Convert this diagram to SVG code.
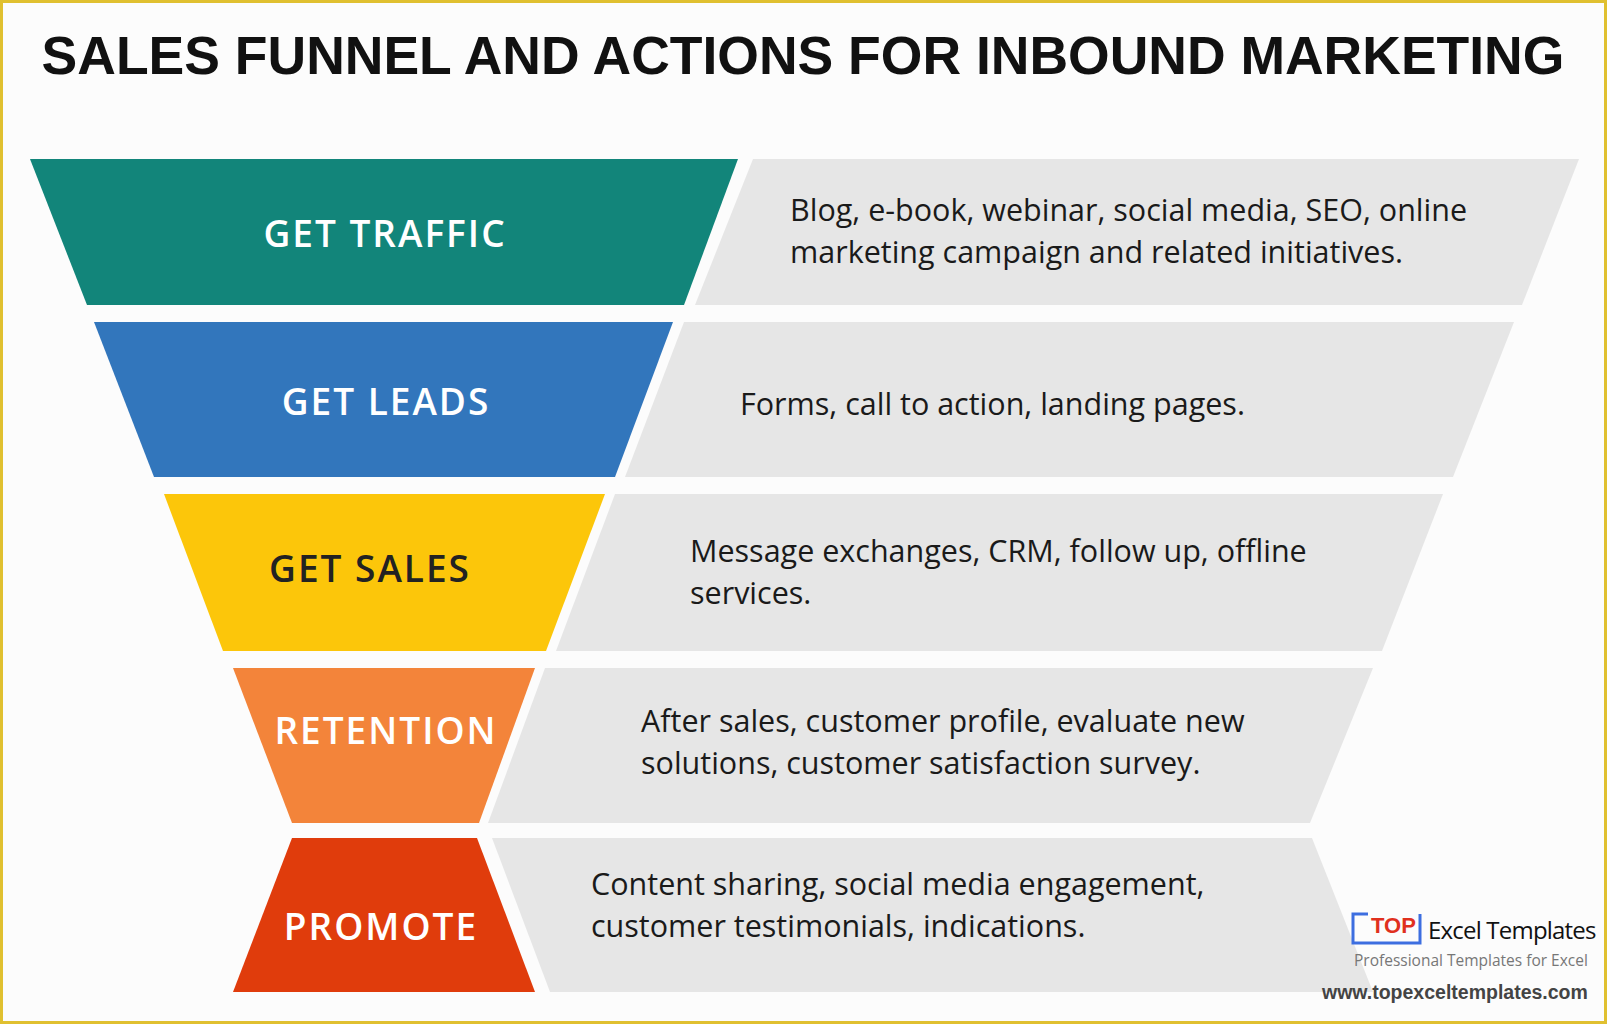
<svg xmlns="http://www.w3.org/2000/svg" width="1607" height="1024" viewBox="0 0 1607 1024">
<style>
.lab{font-family:"Open Sans","Liberation Sans",sans-serif;font-size:37px;font-weight:600;fill:#fff;text-anchor:middle;letter-spacing:2px}
.desc{font-family:"Open Sans","Liberation Sans",sans-serif;font-size:30.5px;fill:#1a1a1a}
.grey{fill:#e6e6e6}
</style>
<rect x="1.5" y="1.5" width="1604" height="1021" fill="#fcfcfc" stroke="#e0c030" stroke-width="3"/>
<text x="803" y="74" text-anchor="middle" font-family="Liberation Sans,Arial,sans-serif" font-weight="bold" font-size="53.5" fill="#111">SALES FUNNEL AND ACTIONS FOR INBOUND MARKETING</text>
<g id="traffic">
<polygon class="grey" points="753,159 1579,159 1522,305 695,305"/>
<polygon fill="#12857a" points="30,159 738,159 684,305 87,305"/>
<text class="lab" x="385" y="247">GET TRAFFIC</text>
<text class="desc" x="790" y="221">Blog, e-book, webinar, social media, SEO, online</text>
<text class="desc" x="790" y="263">marketing campaign and related initiatives.</text>
</g>
<g id="leads">
<polygon class="grey" points="684,322 1514,322 1453,477 625,477"/>
<polygon fill="#3276bc" points="94,322 673,322 615,477 154,477"/>
<text class="lab" x="386" y="415">GET LEADS</text>
<text class="desc" x="740" y="415">Forms, call to action, landing pages.</text>
</g>
<g id="sales">
<polygon class="grey" points="615,494 1443,494 1382,651 556,651"/>
<polygon fill="#fcc60a" points="164,494 605,494 546,651 223,651"/>
<text class="lab" x="370" y="582" style="fill:#222">GET SALES</text>
<text class="desc" x="690" y="562">Message exchanges, CRM, follow up, offline</text>
<text class="desc" x="690" y="604">services.</text>
</g>
<g id="retention">
<polygon class="grey" points="545,668 1373,668 1310,823 488,823"/>
<polygon fill="#f3843a" points="233,668 535,668 479,823 292,823"/>
<text class="lab" x="386" y="744">RETENTION</text>
<text class="desc" x="641" y="732">After sales, customer profile, evaluate new</text>
<text class="desc" x="641" y="774">solutions, customer satisfaction survey.</text>
</g>
<g id="promote">
<polygon class="grey" points="492,838 1312,838 1373,992 550,992"/>
<polygon fill="#e03c0c" points="292,838 477,838 535,992 233,992"/>
<text class="lab" x="381" y="940">PROMOTE</text>
<text class="desc" x="591" y="895">Content sharing, social media engagement,</text>
<text class="desc" x="591" y="937">customer testimonials, indications.</text>
</g>
<g id="logo">
<rect x="1356" y="916" width="60" height="27" fill="#fcfcfc"/>
<path d="M1368,914 H1353 V943 H1420 V914" fill="none" stroke="#3d6ee0" stroke-width="3"/>
<text x="1371" y="933" font-family="Liberation Sans,sans-serif" font-weight="bold" font-size="22" fill="#e0301e">TOP</text>
<text x="1428" y="939" font-family="Open Sans,sans-serif" font-size="24" fill="#111" letter-spacing="-0.8">Excel Templates</text>
<text x="1354" y="966" font-family="Open Sans,sans-serif" font-size="15.5" fill="#777">Professional Templates for Excel</text>
<text x="1322" y="999" font-family="Liberation Sans,sans-serif" font-weight="bold" font-size="19.5" fill="#444">www.topexceltemplates.com</text>
</g>
</svg>
